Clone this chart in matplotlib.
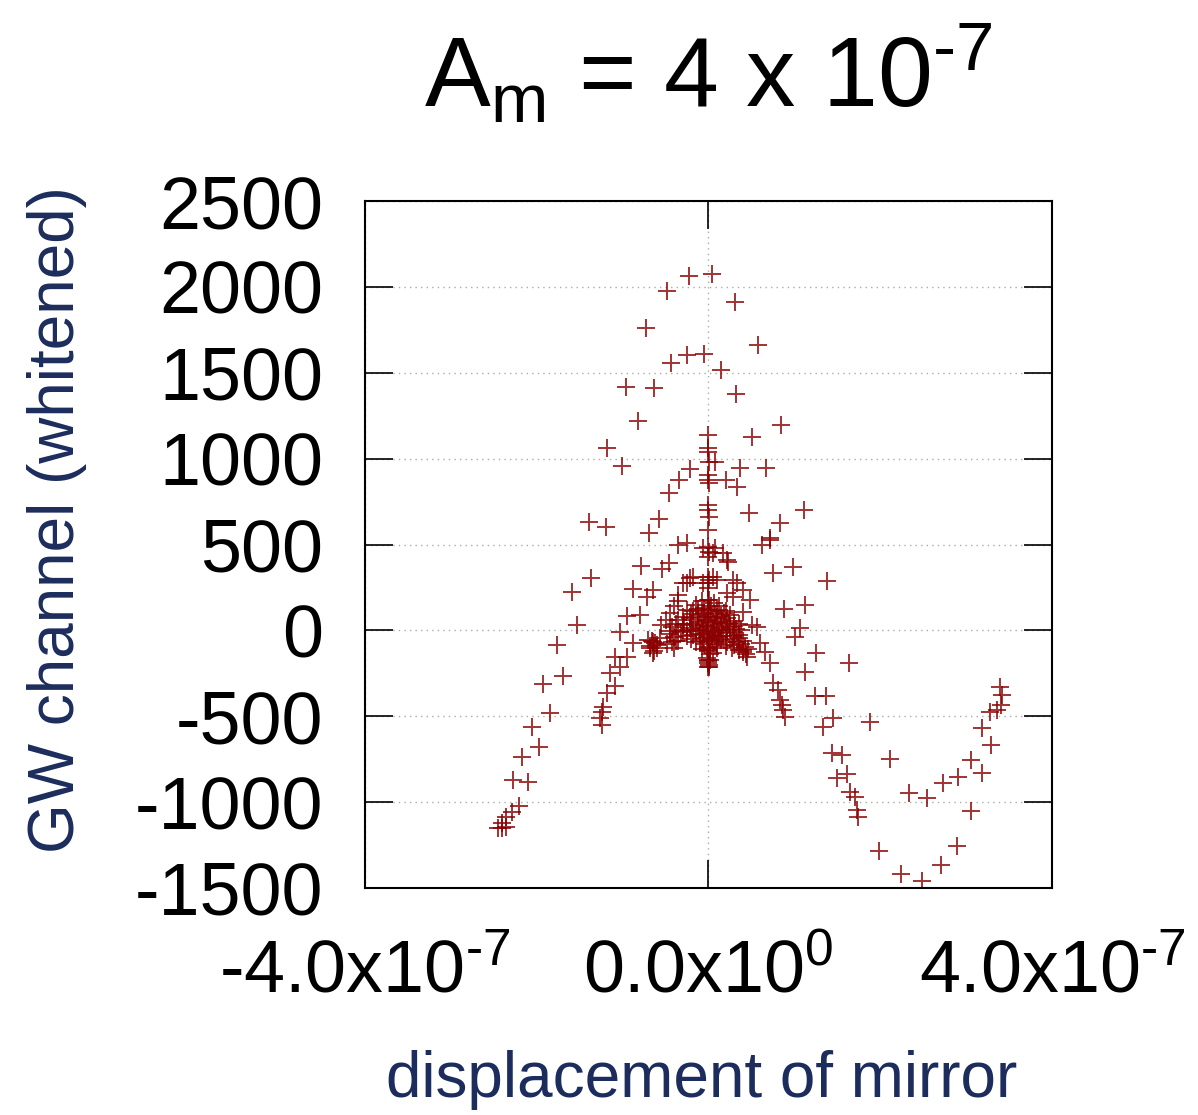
import matplotlib
matplotlib.use("Agg")
import matplotlib.pyplot as plt

plt.rcParams["font.family"] = ["Liberation Sans", "DejaVu Sans"]
plt.rcParams["mathtext.fontset"] = "custom"
plt.rcParams["mathtext.rm"] = "Liberation Sans"
plt.rcParams["mathtext.default"] = "regular"
plt.rcParams["axes.unicode_minus"] = False

# displacement in units of 1e-7, GW channel (whitened)
peak_x = [-0.227, 0.041, -0.483, 0.308, -0.728, 0.576, -0.250, -0.052, -0.437, 0.146,
          -0.960, -0.634, 0.320, -0.821, 0.844, 0.506, -1.181, -1.007, -0.215, -0.343,
          -0.460, 0.367, 0.669, 0.204, 0.332, 0.471, 1.112, 0.832, 0.716, -1.391,
          -1.193, -0.576, -0.693, 0.076]
peak_y = [2061, 2073, 1979, 1910, 1758, 1659, 1601, 1607, 1554, 1514,
          1415, 1409, 1374, 1217, 1194, 1124, 1060, 955, 937, 873,
          798, 943, 943, 873, 833, 681, 699, 623, 536, 629,
          600, 646, 565, 978]

column_y = [1135, 1060, 1036, 978, 902, 873, 856, 728, 699, 658, 582, 483, 454, 425,
            309, 291, 274, 245, 175, 116, 58, -58, -116, -175, -215]
column_x = [0.0, -0.005, 0.0, 0.003, -0.004, 0.0, 0.002, -0.003, 0.0, 0.004, -0.002, 0.0,
            0.003, -0.004, 0.0, 0.002, -0.003, 0.0, 0.004, -0.002, 0.0, 0.003, -0.004, 0.0, 0.002]

left_x = [-0.250, -0.355, -0.064, -0.786, -0.460, -0.541, -1.368, -1.589, -0.879, -0.646,
          -0.716, -0.215, -0.297, -0.355, -0.949, -0.797, -1.531, -1.030, -0.879, -1.764,
          -1.088, -0.949, -1.030, -1.147, -1.694, -1.927, -1.088, -1.181, -1.228, -1.240,
          -1.263, -1.240, -1.845, -2.054, -1.973, -2.171, -2.276, -2.101, -2.206, -2.287,
          -2.357, -2.404, -2.450, -2.357, -2.404, -0.646, -0.681, -0.646, -0.600, -0.565,
          -0.704, -0.66, -0.62, -0.68, -0.64, -0.60]
left_y = [507, 495, 477, 373, 390, 355, 303, 221, 239, 233,
          192, 303, 274, 204, 82, 87, 29, -12, -76, -87,
          -157, -157, -215, -250, -268, -314, -326, -367, -448, -477,
          -512, -553, -483, -565, -681, -739, -873, -885, -1025, -1060,
          -1089, -1124, -1153, -1147, -1153, -70, -105, -134, -87, -47,
          -58, -60, -75, -90, -120, -100]

right_x = [0.623, 0.716, 0.984, 0.751, 1.379, 0.879, 1.123, 1.065, 1.007, 1.251,
           1.635, 1.123, 1.240, 1.368, 1.449, 1.333, 1.880, 1.438, 1.554, 2.113,
           1.612, 1.496, 1.647, 1.705, 1.729, 1.740, 2.334, 2.543, 2.730, 2.904,
           3.056, 3.184, 3.056, 3.184, 3.288, 3.277, 3.358, 3.393, 3.416, 3.405,
           1.983, 2.241, 2.485, 2.706, 2.893,
           0.448, 0.402, 0.599, 0.658, 0.716, 0.751, 0.832, 0.867, 0.891, 0.809, 0.856,
           0.215, 0.332, 0.402, 0.483, 0.285, 0.402, 0.506, 0.565, 0.052, 0.099,
           0.076, 0.169, 0.227, -0.180, -0.250, -0.064, 0.052, 0.215, 0.285]
right_y = [495, 524, 367, 332, 285, 122, 146, 12, -41, -134,
           -192, -245, -384, -384, -512, -565, -536, -716, -728, -751,
           -838, -862, -943, -972, -1048, -1089, -949, -978, -891, -856,
           -757, -833, -1054, -571, -670, -477, -466, -332, -378, -437,
           -1287, -1421, -1461, -1368, -1258,
           -157, -116, -76, -128, -192, -309, -408, -466, -507, -349, -437,
           408, 274, 233, 175, 192, 105, 29, 17, 448, 291,
           477, 448, 396, 309, 274, 274, 309, 215, 291]

blob_x = [-0.25, -0.15, -0.08, 0.0, 0.06, 0.12, 0.2, -0.2, 0.25,
          -0.35, -0.3, -0.22, -0.12, -0.05, 0.02, 0.08, 0.15, 0.22, 0.3, 0.35,
          -0.42, -0.38, -0.3, -0.2, -0.1, -0.03, 0.03, 0.1, 0.18, 0.25, 0.32, 0.38,
          -0.45, -0.4, -0.32, -0.25, -0.15, -0.08, 0.05, 0.12, 0.2, 0.28, 0.35, 0.4,
          -0.35, -0.1, -0.05, 0.02, 0.08, 0.15, 0.22, 0.3, 0.42, 0.46,
          0.0, 0.02, -0.02, 0.0, 0.01, 0.0, 0.05, 0.1, -0.08,
          -0.5, -0.45, -0.4, -0.35, -0.55,
          -0.28, -0.18, -0.08, 0.0, 0.05, 0.1, 0.16, 0.24, 0.3,
          -0.3, -0.22, -0.12, -0.05, 0.0, 0.07, 0.14, 0.22, 0.3, 0.36,
          -0.25, -0.18, -0.1, -0.02, 0.04, 0.1, 0.17, 0.25, 0.33, 0.38,
          -0.05, 0.03, 0.1, -0.12, 0.18, -0.18,
          -0.02, 0.04, -0.06, 0.1, 0.2, 0.27, 0.35, 0.44, 0.4,
          0.0, 0.0, 0.02, -0.01,
          -0.38, -0.42, -0.48, -0.4, -0.45,
          -0.15, -0.2, 0.12, 0.06, -0.06]
blob_y = [120, 150, 170, 175, 160, 140, 110, 95, 90,
          60, 80, 70, 90, 100, 110, 95, 85, 70, 55, 40,
          20, 35, 30, 40, 50, 55, 45, 50, 35, 20, 10, 0,
          -20, -40, -10, -5, 5, 10, -5, 0, -15, -30, -45, -60,
          -60, -60, -80, -70, -60, -55, -70, -85, -95, -110,
          -120, -140, -160, -180, -200, -215, -130, -100, -110,
          60, 100, 140, 170, 30,
          40, 60, 75, 80, 70, 75, 60, 45, 25,
          0, 15, 25, 30, 20, 25, 15, 0, -10, -25,
          -30, -25, -20, -15, -25, -30, -35, -50, -65, -80,
          130, 140, 120, 125, 100, 110,
          -40, -50, -45, -80, -90, -105, -115, -140, -125,
          -95, -105, -170, -190,
          -60, -70, -80, -100, -5,
          -70, -50, -40, -10, -5]

y_ticks = [-1500, -1000, -500, 0, 500, 1000, 1500, 2000, 2500]
x_ticks = [-4e-7, 0.0, 4e-7]
x_tick_labels = ["-4.0x10$^{\u20107}$", "0.0x10$^{0}$", "4.0x10$^{\u20107}$"]

fig = plt.figure(figsize=(11.98, 11.15), dpi=100)
ax = fig.add_axes([0.3047, 0.2036, 0.5734, 0.6161])

for xs, ys in [(peak_x, peak_y), (column_x, column_y), (left_x, left_y),
               (right_x, right_y), (blob_x, blob_y)]:
    ax.plot([v * 1e-7 for v in xs], ys, linestyle="none", marker="+",
            markersize=13, markeredgewidth=1.4, color="#8b0000", alpha=0.8)

ax.set_xlim(-4e-7, 4e-7)
ax.set_ylim(-1500, 2500)
ax.set_xticks(x_ticks)
ax.set_xticklabels(x_tick_labels)
ax.set_yticks(y_ticks)
ax.grid(True, linestyle=(0, (1, 3)), color="#aaaaaa", linewidth=1)
ax.tick_params(direction="in", length=20, width=1.2, top=True, right=True,
               labelsize=53, pad=30)
ax.tick_params(axis="x", pad=36)
for s in ax.spines.values():
    s.set_linewidth(1.5)

ax.set_ylabel("GW channel (whitened)", fontsize=46, color="#1c2c5c")
ax.yaxis.set_label_coords(-0.405, 0.536)
ax.set_xlabel("displacement of mirror", fontsize=46, color="#1c2c5c")
ax.xaxis.set_label_coords(0.49, -0.236)

fig.text(0.591, 0.9040, "A$_{m}$ = 4 x 10$^{\u20107}$", fontsize=71, ha="center", va="baseline")

fig.savefig("out.png", dpi=100)
